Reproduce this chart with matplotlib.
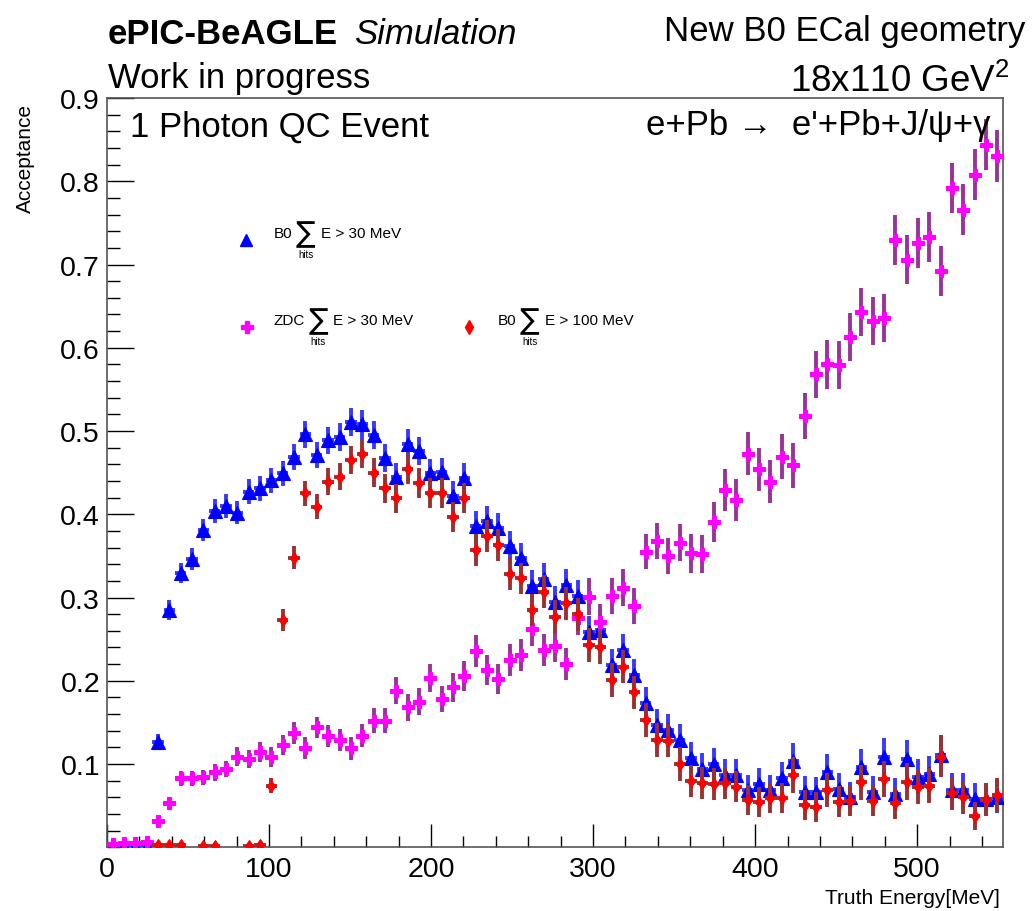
import numpy as np
import matplotlib
matplotlib.use('Agg')
import matplotlib.pyplot as plt
from matplotlib.lines import Line2D
from matplotlib.ticker import MultipleLocator, FixedLocator

plt.rcParams['font.family'] = ['Liberation Sans', 'DejaVu Sans']
plt.rcParams['mathtext.fontset'] = 'custom'
plt.rcParams['mathtext.rm'] = 'Liberation Sans'
plt.rcParams['mathtext.it'] = 'Liberation Sans:italic'
plt.rcParams['mathtext.bf'] = 'Liberation Sans:bold'

# ---------------- data ----------------
bin_width = 7.0
n_bins = 79
energy = np.arange(n_bins) * bin_width + bin_width / 2   # bin centres [MeV]
nan = np.nan

b0_30 = [0.0, 0.0, 0.0, 0.0, 0.127, 0.285, 0.330, 0.346, 0.381, 0.404,
         0.410, 0.402, 0.427, 0.431, 0.441, 0.449, 0.469, 0.496, 0.471, 0.489,
         0.493, 0.511, 0.508, 0.495, 0.468, 0.445, 0.485, 0.476, 0.449, 0.451,
         0.422, 0.443, 0.386, 0.392, 0.383, 0.362, 0.347, 0.314, 0.322, 0.295,
         0.315, 0.302, 0.259, 0.261, 0.219, 0.237, 0.207, 0.173, 0.147, 0.141,
         0.129, 0.107, 0.094, 0.100, 0.087, 0.087, 0.069, 0.076, 0.069, 0.083,
         0.104, 0.067, 0.066, 0.091, 0.070, 0.060, 0.096, 0.067, 0.108, 0.064,
         0.106, 0.085, 0.088, 0.111, 0.069, 0.069, 0.058, 0.058, 0.061]
b0_30_err = [0.002, 0.002, 0.002, 0.002, 0.009, 0.012, 0.012, 0.013, 0.013, 0.014,
             0.014, 0.014, 0.015, 0.015, 0.015, 0.015, 0.016, 0.016, 0.016, 0.016,
             0.017, 0.017, 0.017, 0.017, 0.017, 0.017, 0.017, 0.017, 0.017, 0.017,
             0.018, 0.018, 0.018, 0.018, 0.018, 0.018, 0.018, 0.019, 0.019, 0.019,
             0.019, 0.019, 0.019, 0.019, 0.019, 0.019, 0.019, 0.019, 0.019, 0.019,
             0.019, 0.019, 0.019, 0.019, 0.019, 0.019, 0.018, 0.019, 0.018, 0.019,
             0.021, 0.019, 0.019, 0.021, 0.019, 0.018, 0.022, 0.019, 0.023, 0.019,
             0.023, 0.021, 0.022, 0.024, 0.020, 0.020, 0.019, 0.019, 0.020]

zdc_30 = [0.004, 0.005, 0.005, 0.006, 0.032, 0.053, 0.083, 0.083, 0.084, 0.090,
          0.094, 0.109, 0.106, 0.115, 0.109, 0.123, 0.137, 0.119, 0.144, 0.134,
          0.129, 0.119, 0.134, 0.152, 0.152, 0.188, 0.168, 0.175, 0.203, 0.178,
          0.192, 0.206, 0.236, 0.213, 0.202, 0.225, 0.231, 0.262, 0.237, 0.242,
          0.220, 0.276, 0.301, 0.271, 0.302, 0.312, 0.290, 0.355, 0.368, 0.350,
          0.366, 0.353, 0.352, 0.391, 0.429, 0.417, 0.473, 0.454, 0.439, 0.469,
          0.459, 0.518, 0.568, 0.580, 0.579, 0.613, 0.643, 0.632, 0.636, 0.729,
          0.706, 0.726, 0.733, 0.692, 0.792, 0.766, 0.808, 0.844, 0.830]
zdc_30_err = [0.003, 0.003, 0.003, 0.003, 0.006, 0.007, 0.009, 0.009, 0.009, 0.010,
              0.010, 0.011, 0.011, 0.012, 0.012, 0.012, 0.013, 0.013, 0.013, 0.013,
              0.013, 0.014, 0.014, 0.015, 0.015, 0.016, 0.016, 0.016, 0.017, 0.016,
              0.017, 0.018, 0.019, 0.018, 0.018, 0.019, 0.019, 0.020, 0.019, 0.020,
              0.019, 0.021, 0.022, 0.021, 0.022, 0.022, 0.022, 0.021, 0.022, 0.022,
              0.022, 0.023, 0.023, 0.024, 0.025, 0.025, 0.026, 0.026, 0.026, 0.027,
              0.027, 0.028, 0.028, 0.029, 0.029, 0.029, 0.029, 0.029, 0.029, 0.030,
              0.030, 0.030, 0.030, 0.030, 0.030, 0.031, 0.031, 0.031, 0.031]

b0_100 = [nan, nan, nan, nan, 0.003, 0.003, 0.003, nan, 0.002, 0.002,
          nan, nan, 0.002, 0.003, 0.074, 0.273, 0.348, 0.425, 0.409, 0.439,
          0.445, 0.465, 0.473, 0.450, 0.431, 0.419, 0.454, 0.437, 0.425, 0.425,
          0.397, 0.419, 0.357, 0.374, 0.363, 0.328, 0.323, 0.285, 0.307, 0.277,
          0.293, 0.280, 0.243, 0.240, 0.201, 0.217, 0.186, 0.153, 0.129, 0.128,
          0.100, 0.080, 0.077, 0.076, 0.077, 0.073, 0.057, 0.054, 0.059, 0.059,
          0.087, 0.051, 0.048, 0.069, 0.055, 0.056, 0.078, 0.056, 0.082, 0.053,
          0.079, 0.073, 0.074, 0.109, 0.065, 0.060, 0.038, 0.057, 0.063]
b0_100_err = [0.002, 0.002, 0.002, 0.002, 0.003, 0.003, 0.003, 0.002, 0.003, 0.003,
              0.002, 0.002, 0.003, 0.003, 0.009, 0.013, 0.014, 0.015, 0.015, 0.016,
              0.016, 0.017, 0.017, 0.017, 0.017, 0.017, 0.018, 0.018, 0.018, 0.018,
              0.018, 0.018, 0.019, 0.019, 0.019, 0.019, 0.019, 0.019, 0.020, 0.020,
              0.020, 0.020, 0.020, 0.020, 0.020, 0.020, 0.020, 0.020, 0.020, 0.020,
              0.020, 0.019, 0.019, 0.019, 0.019, 0.019, 0.018, 0.018, 0.018, 0.018,
              0.022, 0.018, 0.018, 0.020, 0.019, 0.019, 0.021, 0.019, 0.022, 0.019,
              0.022, 0.021, 0.021, 0.025, 0.020, 0.020, 0.017, 0.019, 0.020]

x_ticks = [0, 100, 200, 300, 400, 500]
y_ticks = [0.1, 0.2, 0.3, 0.4, 0.5, 0.6, 0.7, 0.8, 0.9]
y_tick_labels = ['0.1', '0.2', '0.3', '0.4', '0.5', '0.6', '0.7', '0.8', '0.9']

# ---------------- figure ----------------
W, H = 1033, 912
fig = plt.figure(figsize=(W / 100, H / 100), dpi=100)
ax = fig.add_axes([107 / W, 1 - 848.3 / H, (1003 - 107) / W, (848.3 - 99) / H])


def draw(vals, errs, marker, ms, mcol, ecol, z):
    v = np.array(vals, float)
    e = np.array(errs, float)
    m = ~np.isnan(v)
    ax.errorbar(energy[m], v[m], xerr=bin_width / 2, yerr=e[m], fmt=marker,
                ms=ms, mfc=mcol, mec=mcol, mew=0.8, ecolor=ecol,
                elinewidth=2.8, capsize=0, zorder=z)


draw(b0_30, b0_30_err, '^', 9.5, '#0000ff', '#3a3aff', 3)
draw(zdc_30, zdc_30_err, 'P', 9, '#ff00ff', '#993399', 4)
draw(b0_100, b0_100_err, 'd', 6.5, '#ff0000', '#993333', 5)

ax.set_xlim(0, 553)
ax.set_ylim(0, 0.9)
ax.xaxis.set_major_locator(FixedLocator(x_ticks))
ax.xaxis.set_minor_locator(MultipleLocator(20))
ax.yaxis.set_major_locator(FixedLocator(y_ticks))
ax.set_yticklabels(y_tick_labels)
ax.yaxis.set_minor_locator(MultipleLocator(0.02))
ax.tick_params(axis='x', which='major', direction='in', length=16.5, width=1,
               labelsize=20.5, pad=6, top=False)
ax.tick_params(axis='x', which='minor', direction='in', length=8, width=1, top=False)
ax.tick_params(axis='y', which='major', direction='in', length=19.5, width=1,
               labelsize=20.5, pad=5, right=False)
ax.tick_params(axis='y', which='minor', direction='in', length=9.5, width=1, right=False)
for s in ax.spines.values():
    s.set_color('#555555')
    s.set_linewidth(1.2)


def ft(x, y, s, **kw):
    fig.text(x / W, 1 - y / H, s, va='baseline', **kw)


ft(108, 44, 'ePIC-BeAGLE', fontsize=25, fontweight='bold')
ft(354, 44, 'Simulation', fontsize=25, style='italic')
ft(108, 88, 'Work in progress', fontsize=25)
ft(1025, 41, 'New B0 ECal geometry', fontsize=25, ha='right')
ft(1010, 92, '18x110 GeV$^{2}$', fontsize=26.5, ha='right')
ft(130, 137, '1 Photon QC Event', fontsize=25)
ft(990, 135, "e+Pb \u2192  e'+Pb+J/\u03c8+\u03b3", fontsize=25, ha='right')
fig.text(25 / W, 1 - 104 / H, 'Acceptance', rotation=90, ha='center', va='top', fontsize=15)
ft(1000, 904, 'Truth Energy[MeV]', fontsize=15, ha='right')

# ---------------- legend ----------------
def leg_marker(x, y, marker, ms, col):
    fig.add_artist(Line2D([x / W], [1 - y / H], transform=fig.transFigure,
                          marker=marker, ms=ms, color=col, mec=col, ls='none'))


def leg_label(x, y, pre, post):
    t = fig.text(x / W, 1 - y / H, pre, fontsize=11, va='baseline')
    fig.canvas.draw()
    bb = t.get_window_extent()
    xs = bb.x1 + 3
    fig.text(xs / W, 1 - (y + 4) / H, '\u2211', fontsize=21, va='baseline',
             family=['DejaVu Sans'])
    fig.text((xs + 10) / W, 1 - (y + 20) / H, 'hits', fontsize=7, va='baseline', ha='center')
    fig.text((xs + 25) / W, 1 - y / H, post, fontsize=11, va='baseline')


leg_marker(246, 241, '^', 8, '#0000ff')
leg_label(274, 238, 'B0', 'E > 30 MeV')
leg_marker(247, 328, 'P', 8, '#ff00ff')
leg_label(274, 325, 'ZDC', 'E > 30 MeV')
leg_marker(469, 328, 'd', 7, '#ff0000')
leg_label(498, 325, 'B0', 'E > 100 MeV')

fig.savefig('out.png', dpi=100)
